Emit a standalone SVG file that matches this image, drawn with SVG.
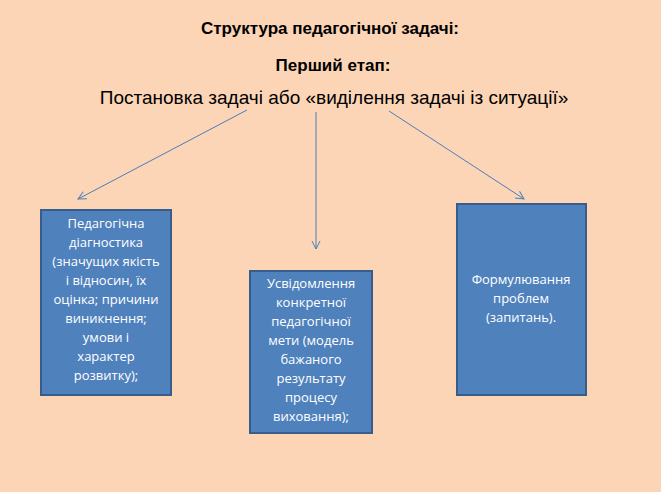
<svg xmlns="http://www.w3.org/2000/svg" width="661" height="492" viewBox="0 0 661 492">
<style>
.t{font-family:"Liberation Sans",Arial,sans-serif;fill:#000;text-anchor:middle}
.b{fill:#4F81BD;stroke:#385D8A;stroke-width:2}
.bt{font-family:"Open Sans","Liberation Sans",sans-serif;font-size:13px;fill:#fff;text-anchor:middle}
.c{stroke:#4A7EBB;stroke-width:1;fill:none;marker-end:url(#a)}
</style>
<defs><marker id="a" viewBox="0 0 10 10" refX="9" refY="5" markerWidth="10" markerHeight="10" orient="auto" markerUnits="userSpaceOnUse"><path d="M1,1 L9,5 L1,9" fill="none" stroke="#4A7EBB" stroke-width="1"/></marker></defs>
<rect width="661" height="492" fill="#FBD5B5"/>
<g id="title">
<text class="t" x="330" y="34" font-size="17" font-weight="bold">Структура педагогічної задачі:</text>
<text class="t" x="333" y="71" font-size="17" font-weight="bold">Перший етап:</text>
<text class="t" x="334" y="104" font-size="19">Постановка задачі або «виділення задачі із ситуації»</text>
</g>
<g id="connectors">
<line class="c" x1="247" y1="110" x2="78" y2="199"/>
<line class="c" x1="316" y1="112" x2="316" y2="249"/>
<line class="c" x1="389" y1="111" x2="524" y2="199"/>
</g>
<g id="n1"><rect class="b" x="41" y="210" width="130" height="185"/>
<text class="bt" y="228"><tspan x="106">Педагогічна</tspan><tspan x="106" dy="19">діагностика</tspan><tspan x="106" dy="19">(значущих якість</tspan><tspan x="106" dy="19">і відносин, їх</tspan><tspan x="106" dy="19">оцінка; причини</tspan><tspan x="106" dy="19">виникнення;</tspan><tspan x="106" dy="19">умови і</tspan><tspan x="106" dy="19">характер</tspan><tspan x="106" dy="19">розвитку);</tspan></text></g>
<g id="n2"><rect class="b" x="250" y="271" width="122" height="162"/>
<text class="bt" y="288"><tspan x="311">Усвідомлення</tspan><tspan x="311" dy="19">конкретної</tspan><tspan x="311" dy="19">педагогічної</tspan><tspan x="311" dy="19">мети (модель</tspan><tspan x="311" dy="19">бажаного</tspan><tspan x="311" dy="19">результату</tspan><tspan x="311" dy="19">процесу</tspan><tspan x="311" dy="19">виховання);</tspan></text></g>
<g id="n3"><rect class="b" x="457" y="204" width="129" height="191"/>
<text class="bt" y="284"><tspan x="521">Формулювання</tspan><tspan x="521" dy="19">проблем</tspan><tspan x="521" dy="19">(запитань).</tspan></text></g>
</svg>
